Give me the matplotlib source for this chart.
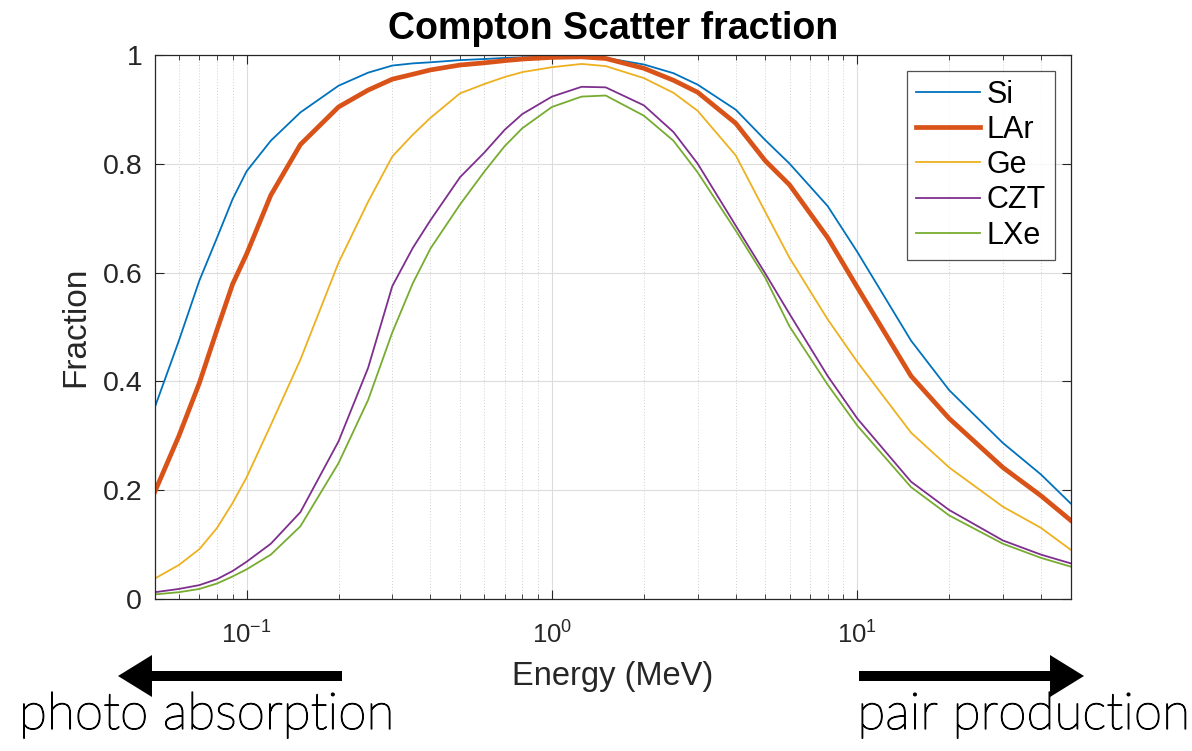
import numpy as np
import matplotlib
matplotlib.use("Agg")
import matplotlib.pyplot as plt
import matplotlib.patheffects as pe
from matplotlib.patches import FancyArrow
from matplotlib.ticker import LogLocator, FixedLocator, NullFormatter

# ============================================================
# Data
# ============================================================
energy = [0.05, 0.06, 0.07, 0.08, 0.09, 0.1, 0.12, 0.15, 0.2, 0.25, 0.3, 0.35, 0.4, 0.5, 0.6, 0.7, 0.8,
          1.0, 1.25, 1.5, 2.0, 2.5, 3.0, 4.0, 5.0, 6.0, 8.0, 10.0, 15.0, 20.0, 30.0, 40.0, 50.0]

si = [0.352, 0.475, 0.585, 0.664, 0.735, 0.786, 0.842, 0.894, 0.943, 0.967, 0.980, 0.984, 0.986, 0.990,
      0.992, 0.994, 0.995, 0.997, 0.997, 0.994, 0.982, 0.966, 0.945, 0.899, 0.843, 0.800, 0.722, 0.638,
      0.475, 0.384, 0.287, 0.229, 0.176]
lar = [0.197, 0.300, 0.397, 0.495, 0.579, 0.634, 0.742, 0.835, 0.904, 0.935, 0.955, 0.964, 0.972, 0.981,
       0.985, 0.989, 0.992, 0.995, 0.996, 0.993, 0.975, 0.953, 0.931, 0.874, 0.805, 0.761, 0.664, 0.573,
       0.410, 0.332, 0.242, 0.190, 0.145]
ge = [0.038, 0.063, 0.092, 0.131, 0.177, 0.224, 0.320, 0.440, 0.618, 0.730, 0.813, 0.853, 0.884, 0.929,
      0.946, 0.959, 0.968, 0.977, 0.983, 0.979, 0.957, 0.930, 0.897, 0.815, 0.711, 0.627, 0.514, 0.436,
      0.306, 0.242, 0.170, 0.131, 0.091]
czt = [0.013, 0.019, 0.026, 0.037, 0.052, 0.069, 0.102, 0.160, 0.290, 0.425, 0.575, 0.645, 0.696, 0.775,
       0.820, 0.862, 0.891, 0.923, 0.941, 0.940, 0.907, 0.858, 0.800, 0.686, 0.598, 0.524, 0.410, 0.332,
       0.216, 0.164, 0.108, 0.082, 0.066]
lxe = [0.009, 0.013, 0.019, 0.029, 0.042, 0.055, 0.082, 0.134, 0.250, 0.366, 0.490, 0.580, 0.644, 0.725,
       0.785, 0.832, 0.865, 0.904, 0.923, 0.925, 0.888, 0.842, 0.784, 0.677, 0.590, 0.501, 0.394, 0.319,
       0.206, 0.154, 0.102, 0.076, 0.060]

labels = ["Si", "LAr", "Ge", "CZT", "LXe"]
series = [si, lar, ge, czt, lxe]
colors = ["#0072BD", "#D95319", "#EDB120", "#7E2F8E", "#77AC30"]
widths = [1.3, 3.4, 1.3, 1.3, 1.3]

# ============================================================
# Style
# ============================================================
plt.rcParams["font.family"] = ["Liberation Sans", "DejaVu Sans"]
plt.rcParams["mathtext.fontset"] = "custom"
plt.rcParams["mathtext.rm"] = "Liberation Sans"
plt.rcParams["mathtext.it"] = "Liberation Sans"

W, H = 1192, 751
fig = plt.figure(figsize=(W / 100, H / 100), dpi=100)
ax = fig.add_axes([0.1298, 0.2020, 0.7684, 0.7252])

for y, lab, c, lw in zip(series, labels, colors, widths):
    ax.plot(energy, y, color=c, lw=lw, label=lab, solid_joinstyle="round")

ax.set_xscale("log")
ax.set_xlim(0.05, 50)
ax.set_ylim(0, 1)
ax.set_yticks([0, 0.2, 0.4, 0.6, 0.8, 1])
ax.set_yticklabels(["0", "0.2", "0.4", "0.6", "0.8", "1"])
ax.xaxis.set_major_locator(FixedLocator([0.1, 1, 10]))
ax.set_xticklabels([r"$10^{-1}$", r"$10^{0}$", r"$10^{1}$"])
ax.xaxis.set_minor_locator(LogLocator(base=10, subs=np.arange(2, 10), numticks=20))
ax.xaxis.set_minor_formatter(NullFormatter())

ax.grid(True, which="major", color="#dcdcdc", lw=0.8)
ax.grid(True, which="minor", axis="x", color="#d0d0d0", lw=0.7, ls=(0, (1, 2)))
ax.set_axisbelow(True)

ax.tick_params(which="both", direction="in", top=True, right=True, colors="#262626",
               labelcolor="#262626")
ax.tick_params(which="major", length=6.5, width=0.8)
ax.tick_params(which="minor", length=3.5, width=0.6)
ax.tick_params(axis="y", labelsize=20.5, pad=9)
ax.tick_params(axis="x", labelsize=18.5, pad=16)
for s in ax.spines.values():
    s.set_color("#262626")
    s.set_linewidth(0.9)

ax.set_title("Compton Scatter fraction", fontsize=27, fontweight="bold", pad=11)
ax.set_ylabel("Fraction", fontsize=24, color="#262626", labelpad=8)
ax.set_xlabel("Energy (MeV)", fontsize=23.5, color="#262626", labelpad=9)

leg = ax.legend(loc="upper right", fontsize=22, frameon=True, fancybox=False,
                edgecolor="#262626", handlelength=2.1, handletextpad=0.2,
                labelspacing=0.17, borderpad=0.3, borderaxespad=0.52)
leg.get_frame().set_linewidth(0.9)

# ============================================================
# Arrows and bottom text
# ============================================================
ay = 1 - 676 / H
fig.add_artist(FancyArrow(342 / W, ay, -224 / W, 0, width=10 / H, head_width=42 / H,
                          head_length=34 / W, length_includes_head=True,
                          transform=fig.transFigure, color="black", lw=0))
fig.add_artist(FancyArrow(859 / W, ay, 225 / W, 0, width=10 / H, head_width=42 / H,
                          head_length=34 / W, length_includes_head=True,
                          transform=fig.transFigure, color="black", lw=0))

thicken = [pe.withStroke(linewidth=0.9, foreground="black")]
fig.text(19 / W, 1 - 729 / H, "photo absorption", fontsize=37, family=["Lato", "DejaVu Sans"],
         fontweight="light", color="black", ha="left", va="baseline", path_effects=thicken)
fig.text(1190 / W, 1 - 729 / H, "pair production", fontsize=37, family=["Lato", "DejaVu Sans"],
         fontweight="light", color="black", ha="right", va="baseline", path_effects=thicken)

fig.savefig("out.png", dpi=100)
